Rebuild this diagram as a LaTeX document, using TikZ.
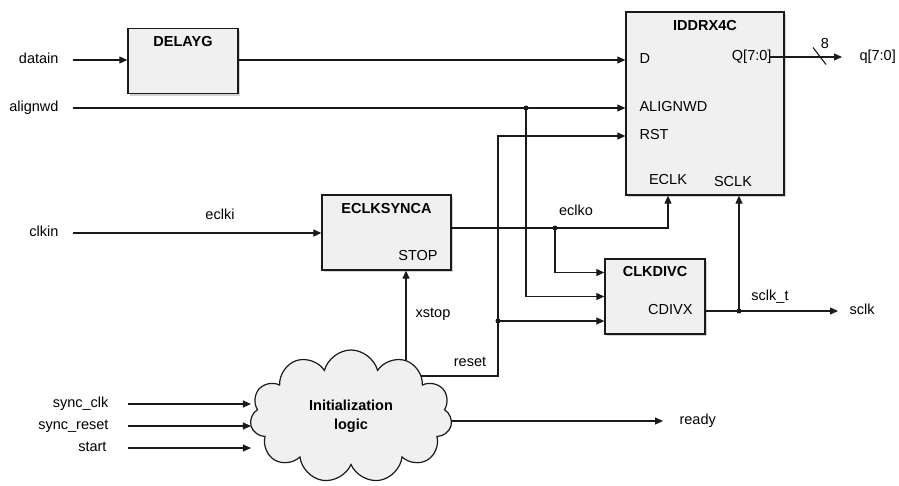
\documentclass[tikz,border=0pt]{standalone}
\usepackage{fontspec}
\setmainfont{Liberation Sans}
\usetikzlibrary{positioning,arrows.meta,shapes.symbols,shadows,backgrounds}

\definecolor{blockfill}{HTML}{F0F0F0}
\definecolor{wirecol}{HTML}{1A1A1A}

\tikzset{every picture/.style={line width=1.1pt}}
\tikzset{
  txt/.style={font=\fontsize{14.5}{17}\selectfont, inner sep=1pt, text height=10.5pt, text depth=3pt},
  title/.style={txt, font=\fontsize{14.5}{17}\selectfont\bfseries},
  block/.style={draw=wirecol, line width=1.3pt, fill=blockfill, drop shadow={shadow xshift=2pt, shadow yshift=-2pt, opacity=0.35}},
  cloudy/.style={cloud, cloud puffs=11, aspect=1.55, draw=wirecol, line width=1.2pt, fill=blockfill, minimum width=202pt, minimum height=133pt, align=center, font=\fontsize{14.5}{19}\selectfont\bfseries},
  wire/.style={draw=wirecol, line width=1.1pt},
  arr/.style={wire, -{Triangle[length=8pt, width=7pt]}},
  jdot/.style={circle, fill=wirecol, inner sep=0pt, minimum size=5pt},
}

\begin{document}
\begin{tikzpicture}[x=1pt,y=-1pt]
		\useasboundingbox (0,0) rectangle (899,485);
		
		%Blocks
		\node[block, minimum width=110pt, minimum height=65pt] (delayg) at (183,61) {};
		\node[title, below=7pt of delayg.north] (delaygT) {DELAYG};
		\node[block, minimum width=158pt, minimum height=183pt] (ddr) at (705,103.5) {};
		\node[title, below=7pt of ddr.north] (ddrT) {IDDRX4C};
		\node[block, minimum width=129pt, minimum height=75pt] (eclks) at (386.5,232.5) {};
		\node[title, below=7pt of eclks.north] (eclksT) {ECLKSYNCA};
		\node[block, minimum width=100pt, minimum height=75pt] (clkdiv) at (655,296.5) {};
		\node[title, below=6pt of clkdiv.north] (clkdivT) {CLKDIVC};
		\node[cloudy] (init) at (351,416.5) {Initialization\\logic};
		
		%Port names
		\node[txt, anchor=west] (pD) at (638,60) {D};
		\node[txt, anchor=east] (pQ) at (773,57) {Q[7:0]};
		\node[txt, anchor=west] (pAlign) at (638,108) {ALIGNWD};
		\node[txt, anchor=west] (pRst) at (638,136) {RST};
		\node[txt] (pEclk) at (668,181) {ECLK};
		\node[txt] (pSclk) at (733,183) {SCLK};
		\node[txt] (pStop) at (418,257) {STOP};
		\node[txt, anchor=east] (pCdiv) at (694,311) {CDIVX};
		
		%Inputs and outputs
		\node[txt, anchor=east] (datain) at (60,60) {datain};
		\node[txt, anchor=east] (alignwd) at (60,108) {alignwd};
		\node[txt, anchor=east] (clkin) at (60,233) {clkin};
		\node[txt, anchor=east] (syncclk) at (110,404) {sync\_clk};
		\node[txt, anchor=east] (syncrst) at (110,426) {sync\_reset};
		\node[txt, anchor=east] (start) at (108,448) {start};
		\node[txt, anchor=west] (q) at (858,57) {q[7:0]};
		\node[txt, anchor=west] (sclk) at (848,311) {sclk};
		\node[txt, anchor=west] (ready) at (678,421) {ready};
		
		%Wire names
		\node[txt] (eclki) at (220,216) {eclki};
		\node[txt] (eclko) at (576,212) {eclko};
		\node[txt] (xstop) at (433,314) {xstop};
		\node[txt] (reset) at (470,363) {reset};
		\node[txt] (sclkt) at (770,297) {sclk\_t};
		\node[txt] (qwidth) at (825,45) {8};
		
		%Junctions
		\node[jdot] (jA) at (526,108) {};
		\node[jdot] (jR) at (498,321) {};
		\node[jdot] (jE) at (555,228) {};
		\node[jdot] (jS) at (739,311) {};
		\coordinate (xs) at (406,0);
		\coordinate (rs) at (498,376);
		\coordinate (qbus) at (819.5,56);
		
		%Data path
		\draw[arr] ([xshift=13]datain.east) -- (datain.east -| delayg.west);
		\draw[arr] (delayg.east |- pD) -- (pD -| ddr.west);
		\draw[arr] ([xshift=13]alignwd.east) -- (alignwd.east -| ddr.west);
		\draw[arr] (jA.center) |- (clkdiv.west);
		\draw[arr] ([xshift=13]clkin.east) -- (clkin.east -| eclks.west);
		\draw[arr] ([xshift=-16]q.west -| ddr.east) -- ([xshift=-16]q.west);
		\draw[wire] ([shift={(-6.5,-8.5)}]qbus) -- ([shift={(6.5,8.5)}]qbus);
		
		%Clocks
		\draw[arr] (eclks.east |- jE) -- (jE -| pEclk) -- (pEclk |- ddr.south);
		\draw[arr] (jE.center) |- ([yshift=24pt]clkdiv.west);
		\draw[wire] (clkdiv.east |- jS) -- (jS.center);
		\draw[arr] (jS.center) -- ([xshift=-10]sclk.west);
		\draw[arr] (jS.center) -- (jS |- ddr.south);
		
		%Reset
		\draw[arr] (jR.center) -- (jR -| clkdiv.west);
		
		%Inputs to init logic
		\draw[arr] ([xshift=18]syncclk.east) -- (syncclk.east -| init.west);
		\draw[arr] ([xshift=18]syncrst.east) -- (syncrst.east -| init.west);
		\draw[arr] ([xshift=20]start.east) -- (start.east -| init.west);
		
		%Outputs of init logic, under the cloud
		\begin{scope}[on background layer]
			\draw[arr] (xs |- init.center) -- (xs |- eclks.south);
			\draw[arr] (init.center |- rs) -- (rs) -- (rs |- pRst) -- (pRst -| ddr.west);
			\draw[arr] (init.center |- ready.west) -- ([xshift=-15]ready.west);
		\end{scope}
\end{tikzpicture}
\end{document}
